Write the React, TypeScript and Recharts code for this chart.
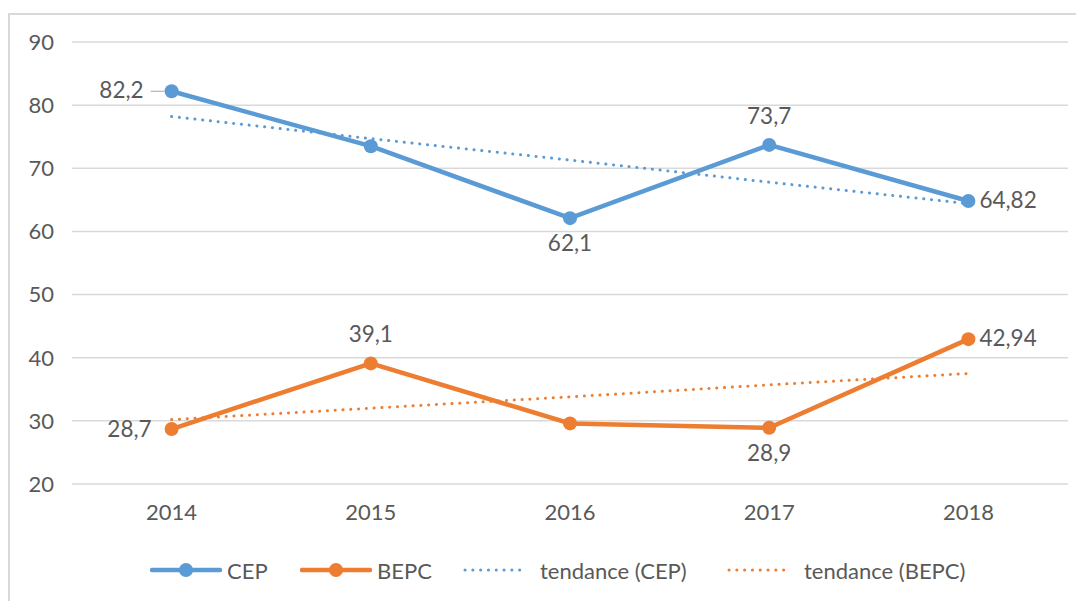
import React from "react";
import { LineChart, Line, CartesianGrid, XAxis, YAxis } from "recharts";

const years = ["2014", "2015", "2016", "2017", "2018"];
const cep = [82.2, 73.5, 62.1, 73.7, 64.82];
const bepc = [28.7, 39.1, 29.6, 28.9, 42.94];
// trend lines
const cepTrend = [78.2, 74.7, 71.3, 67.8, 64.4];
const bepcTrend = [30.2, 32.0, 33.8, 35.7, 37.5];
const yTicks = [20, 30, 40, 50, 60, 70, 80, 90];

// where each data label sits (null = no label)
const cepLabelPos = ["leader", null, "below", "above", "right"];
const bepcLabelPos = ["left", "above", null, "below", "right"];

const BLUE = "#5B9BD5";
const ORANGE = "#ED7D31";
const TEXT = "#595959";
const FONT = "Lato, 'Open Sans', sans-serif";

const data = years.map((year, i) => ({
  year,
  cep: cep[i],
  bepc: bepc[i],
  cepTrend: cepTrend[i],
  bepcTrend: bepcTrend[i],
}));

function fmt(v: number) {
  return String(v).replace(".", ",");
}

function makeLabel(positions: (string | null)[]) {
  return (props: any) => {
    const { x, y, value, index } = props;
    const pos = positions[index];
    if (!pos) return null;
    const common = { fill: TEXT, fontSize: 22.5, fontFamily: FONT };
    const text = fmt(value);
    if (pos === "leader") {
      return (
        <g key={`l-${index}`}>
          <line x1={x - 21} y1={y} x2={x - 7} y2={y} stroke="#a6a6a6" strokeWidth={1} />
          <text x={x - 28} y={y + 1} textAnchor="end" dominantBaseline="middle" {...common}>
            {text}
          </text>
        </g>
      );
    }
    if (pos === "left") {
      return (
        <text key={`l-${index}`} x={x - 20} y={y + 2} textAnchor="end" dominantBaseline="middle" {...common}>
          {text}
        </text>
      );
    }
    if (pos === "right") {
      return (
        <text key={`l-${index}`} x={x + 11} y={y + 1} textAnchor="start" dominantBaseline="middle" {...common}>
          {text}
        </text>
      );
    }
    if (pos === "above") {
      return (
        <text key={`l-${index}`} x={x} y={y - 27} textAnchor="middle" dominantBaseline="middle" {...common}>
          {text}
        </text>
      );
    }
    return (
      <text key={`l-${index}`} x={x} y={y + 27} textAnchor="middle" dominantBaseline="middle" {...common}>
        {text}
      </text>
    );
  };
}

function LegendIcon({ color, dotted }: { color: string; dotted?: boolean }) {
  if (dotted) {
    return (
      <svg width={66} height={14}>
        <line x1={2} y1={7} x2={64} y2={7} stroke={color} strokeWidth={3} strokeDasharray="0.1 7.7" strokeLinecap="round" />
      </svg>
    );
  }
  return (
    <svg width={72} height={16}>
      <line x1={2} y1={8} x2={70} y2={8} stroke={color} strokeWidth={4.5} strokeLinecap="round" />
      <circle cx={36} cy={8} r={7} fill={color} />
    </svg>
  );
}

const legendItems = [
  { name: "CEP", color: BLUE, dotted: false },
  { name: "BEPC", color: ORANGE, dotted: false },
  { name: "tendance (CEP)", color: BLUE, dotted: true },
  { name: "tendance (BEPC)", color: ORANGE, dotted: true },
];
const legendLeft = [140, 290, 453, 717];

export default function App() {
  return (
    <div
      style={{
        position: "relative",
        width: 1090,
        height: 594,
        marginTop: 5,
        border: "2px solid #d9d9d9",
        background: "#fff",
      }}
    >
      <LineChart
        width={1076}
        height={580}
        data={data}
        margin={{ top: 27, right: 18, left: 0, bottom: 71 }}
      >
        <CartesianGrid vertical={false} stroke="#d9d9d9" strokeWidth={1.5} />
        <XAxis
          dataKey="year"
          axisLine={false}
          tickLine={false}
          padding={{ left: 99.6, right: 99.6 }}
          height={40}
          tickMargin={14}
          tick={{ fill: TEXT, fontSize: 22, fontFamily: FONT }}
        />
        <YAxis
          domain={[20, 90]}
          ticks={yTicks}
          axisLine={false}
          tickLine={false}
          width={62}
          tickMargin={12}
          tick={{ fill: TEXT, fontSize: 22, fontFamily: FONT }}
        />
        <Line
          dataKey="cep"
          stroke={BLUE}
          strokeWidth={4.5}
          dot={{ r: 7, fill: BLUE, stroke: BLUE, strokeWidth: 0 }}
          label={makeLabel(cepLabelPos)}
          isAnimationActive={false}
        />
        <Line
          dataKey="bepc"
          stroke={ORANGE}
          strokeWidth={4.5}
          dot={{ r: 7, fill: ORANGE, stroke: ORANGE, strokeWidth: 0 }}
          label={makeLabel(bepcLabelPos)}
          isAnimationActive={false}
        />
        <Line
          dataKey="cepTrend"
          stroke={BLUE}
          strokeWidth={3}
          strokeDasharray="0.1 7.7"
          strokeLinecap="round"
          dot={false}
          activeDot={false}
          isAnimationActive={false}
        />
        <Line
          dataKey="bepcTrend"
          stroke={ORANGE}
          strokeWidth={3}
          strokeDasharray="0.1 7.7"
          strokeLinecap="round"
          dot={false}
          activeDot={false}
          isAnimationActive={false}
        />
      </LineChart>
      {legendItems.map((it, i) => (
        <div
          key={it.name}
          style={{
            position: "absolute",
            left: legendLeft[i],
            top: 540,
            height: 30,
            display: "flex",
            alignItems: "center",
            gap: it.dotted ? 11 : 5,
            fontFamily: FONT,
            fontSize: 22,
            color: TEXT,
            whiteSpace: "nowrap",
          }}
        >
          <LegendIcon color={it.color} dotted={it.dotted} />
          <span>{it.name}</span>
        </div>
      ))}
    </div>
  );
}
